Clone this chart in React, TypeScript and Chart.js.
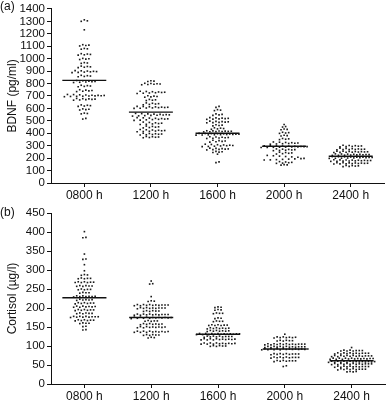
import React, { useEffect, useRef } from 'react';
import { Chart, registerables } from 'chart.js';

Chart.register(...registerables);

const FONT = '"Liberation Sans", Arial, Helvetica, sans-serif';

const categories = ['0800 h', '1200 h', '1600 h', '2000 h', '2400 h'];

// Panel (a) BDNF (pg/ml)
const bdnf0800 = [
  1312, 1304, 1300, 1232, 1112, 1109, 1106, 1102, 1082, 1079, 1076,
  1040, 1037, 1034, 1031, 1028, 1002, 999, 996, 993, 968, 965, 962,
  940, 937, 934, 931, 928, 904, 902, 900, 898, 896, 894, 892, 890, 888,
  866, 863, 860, 857, 854, 824, 822, 819, 816, 814, 812, 810, 808,
  786, 783, 780, 777, 774, 750, 747, 744, 741, 738, 735,
  712, 711, 709, 708, 706, 705, 704, 702, 701, 700, 698, 697, 696, 694,
  680, 678, 676, 674, 672, 670, 668, 666, 628, 625, 622, 619, 616,
  596, 593, 590, 587, 562, 559, 556, 520, 514,
];
const bdnf1200 = [
  822, 819, 816, 802, 800, 798, 796, 794, 792, 790,
  738, 736, 734, 732, 730, 728, 726, 724, 722, 720,
  702, 699, 696, 693, 690, 672, 669, 666, 663,
  644, 641, 638, 635, 632, 629,
  616, 615, 613, 612, 610, 609, 607, 606, 604, 603, 601, 600,
  560, 558, 556, 554, 552, 550, 548, 547, 545, 544, 542, 540, 538,
  526, 524, 522, 520, 518, 516, 514, 512, 510, 508, 506, 504,
  490, 487, 484, 481, 478, 475, 472, 470, 458, 455, 452, 449, 446, 443,
  430, 428, 426, 424, 422, 420, 418, 416, 414, 412,
  400, 398, 396, 394, 392, 390, 388, 386, 374, 372, 370, 368, 366, 364,
];
const bdnf1600 = [
  616, 608, 590, 586, 582, 556, 552, 548, 544,
  526, 524, 522, 520, 518, 516, 514, 512,
  498, 496, 494, 492, 490, 488, 486, 484, 468, 465, 462, 459,
  444, 441, 438, 435, 432, 420, 419, 418, 417, 416, 415, 414, 413, 412, 411,
  399, 398, 397, 396, 395, 394, 393, 392, 391, 390, 389, 388, 387, 386, 385,
  372, 370, 368, 366, 364, 362, 360, 358, 344, 341, 338, 335, 332, 329,
  312, 310, 308, 306, 304, 302, 300, 298, 296, 294, 292,
  280, 278, 276, 274, 272, 270, 268, 266, 254, 251, 248, 245, 232, 170, 164,
];
const bdnf2000 = [
  470, 454, 450, 434, 431, 428, 408, 405, 402, 399, 384, 381, 378,
  358, 355, 352, 349, 330, 328, 326, 324, 322, 320, 318, 316, 314, 312,
  300, 299, 298, 297, 296, 295, 294, 293, 292, 291, 290, 289, 288, 287, 286, 285,
  274, 272, 270, 268, 266, 264, 262, 260, 248, 245, 242, 239, 236, 233,
  222, 219, 216, 213, 210, 207, 198, 196, 194, 192, 190, 188, 186, 185,
  172, 169, 166, 163, 160, 158, 148, 146, 144,
];
const bdnf2400 = [
  304, 302, 300, 298, 296, 294, 292, 290,
  280, 278, 276, 274, 272, 271, 270, 269, 268, 267,
  256, 255, 254, 253, 252, 251, 250, 249, 248, 247, 246, 245,
  234, 233, 232, 231, 230, 229, 228, 227, 226, 225, 224, 223, 222,
  212, 211, 210, 209, 208, 207, 206, 205, 204, 203, 202, 201, 200, 199, 198,
  187, 186, 185, 184, 183, 182, 181, 180, 179, 178, 177, 176, 175, 174,
  164, 163, 162, 161, 160, 159, 158, 157, 156, 155, 154, 153,
  142, 140, 138, 136, 134, 132,
];
const bdnfMeans = [825, 570, 400, 295, 215];

// Panel (b) Cortisol (µg/l)
const cortisol0800 = [
  401, 386, 385, 342, 329, 328, 314, 298, 288, 287, 286,
  279, 278, 278, 277, 277, 269, 269, 268, 268, 267, 267, 267,
  259, 259, 258, 258, 257, 257, 250, 249, 249, 248, 248, 241, 240, 240, 239,
  232, 232, 231, 231, 230, 230, 230, 229, 223, 222, 222, 221, 221, 220,
  214, 214, 213, 213, 212, 212, 211, 205, 205, 204, 204, 203, 203, 202, 202,
  196, 196, 195, 195, 194, 194, 193, 187, 187, 186, 186, 185, 185,
  178, 178, 178, 177, 177, 177, 176, 176, 176, 175,
  169, 169, 168, 168, 167, 167, 166, 161, 160, 160, 159, 152, 151, 143, 142,
];
const cortisol1200 = [
  271, 264, 263, 230, 219, 218, 217,
  209, 209, 209, 208, 208, 208, 208, 207, 207, 207, 206, 206,
  201, 201, 200, 200, 200, 200, 199, 199, 199, 198,
  193, 193, 192, 192, 191, 191,
  184, 184, 184, 183, 183, 183, 183, 182, 182, 182, 181, 181,
  176, 176, 176, 175, 175, 175, 175, 174, 174, 174, 173, 173, 173, 172,
  167, 166, 166, 165, 165, 159, 159, 158, 158, 157, 157, 157, 156,
  151, 151, 150, 150, 150, 149, 149, 149, 148, 148,
  139, 139, 139, 138, 138, 138, 137, 137, 137, 136, 136, 136,
  130, 130, 129, 129, 128, 128, 123, 122, 121,
];
const cortisol1600 = [
  203, 202, 201, 196, 195, 194, 187, 186, 186, 185, 174, 173, 172,
  166, 165, 165, 164, 156, 156, 155, 155, 154, 154, 154,
  148, 148, 147, 147, 146, 146, 146, 145, 141, 141, 140, 140, 139, 139, 139, 138,
  133, 133, 133, 133, 132, 132, 132, 132, 131, 131, 131, 131, 130, 130, 130,
  126, 126, 126, 125, 125, 125, 124, 124, 124, 123,
  119, 119, 119, 118, 118, 118, 117, 117, 117, 116, 116, 116,
  108, 108, 108, 107, 107, 107, 106, 106, 106, 105, 105, 105,
  101, 101, 100, 100, 99, 99,
];
const cortisol2000 = [
  131, 124, 124, 123, 123, 122, 122, 122, 121, 115, 115, 114, 114, 113, 113,
  106, 106, 106, 106, 105, 105, 105, 105, 104, 104, 104, 104, 103, 103,
  99, 99, 99, 99, 98, 98, 98, 98, 97, 97, 97, 97, 96, 96,
  93, 93, 93, 93, 92, 92, 92, 92, 91, 91, 91, 91, 90, 90, 90, 90,
  80, 80, 80, 79, 79, 79, 78, 78, 78, 77, 71, 71, 71, 70, 70, 70, 69, 69, 69, 68,
  62, 62, 61, 61, 61, 60, 60, 59, 48, 46,
];
const cortisol2400 = [
  96, 89, 89, 88, 88, 88, 87, 87, 87, 82, 82, 82, 81, 81, 81, 81, 80, 80, 80, 79, 79,
  75, 75, 75, 75, 74, 74, 74, 74, 73, 73, 73, 73, 72, 72,
  68, 68, 68, 68, 67, 67, 67, 67, 66, 66, 66, 66, 65, 65, 65,
  60, 60, 60, 60, 59, 59, 59, 59, 58, 58, 58, 58, 57, 57, 57, 57,
  54, 54, 54, 54, 53, 53, 53, 53, 52, 52, 52, 52, 51, 51,
  47, 47, 47, 46, 46, 46, 46, 45, 45, 45, 44, 44,
  40, 40, 40, 39, 39, 39, 38, 38, 38, 37, 33, 33, 32, 32,
];
const cortisolMeans = [227, 175, 131, 92, 61];

type Pt = { x: number; y: number | null };

function swarmPoints(groups: number[][], gap: number, dx: number): Pt[] {
  const pts: Pt[] = [];
  groups.forEach((vals, gi) => {
    const sorted = [...vals].sort((a, b) => a - b);
    const rows: number[][] = [];
    let cur: number[] = [];
    sorted.forEach((v) => {
      if (cur.length && v - cur[cur.length - 1] > gap) {
        rows.push(cur);
        cur = [];
      }
      cur.push(v);
    });
    if (cur.length) rows.push(cur);
    rows.forEach((row) => {
      const order: number[] = [];
      let lo = 0;
      let hi = row.length - 1;
      let t = true;
      while (lo <= hi) {
        order.push(t ? row[lo++] : row[hi--]);
        t = !t;
      }
      const n = order.length;
      order.forEach((v, j) => pts.push({ x: gi + (j - (n - 1) / 2) * dx, y: v }));
    });
  });
  return pts;
}

function meanSegments(means: number[], half: number): Pt[] {
  const d: Pt[] = [];
  means.forEach((m, i) => {
    d.push({ x: i - half, y: m }, { x: i + half, y: m }, { x: i + 0.5, y: null });
  });
  return d;
}

function makeConfig(p: {
  groups: number[][];
  means: number[];
  gap: number;
  yMax: number;
  yStep: number;
  yTitle: string;
  label: string;
  labelY: number;
  padTop: number;
  padRight: number;
  xHeight: number;
}): any {
  const labelPlugin = {
    id: 'panelLabel' + p.label.replace(/[()]/g, ''),
    afterDraw(chart: any) {
      const ctx = chart.ctx;
      ctx.save();
      ctx.font = `12px ${FONT}`;
      ctx.fillStyle = '#111';
      ctx.textBaseline = 'middle';
      ctx.textAlign = 'left';
      ctx.fillText(p.label, 0, p.labelY);
      ctx.restore();
    },
  };
  const axisGrid = { display: true, drawOnChartArea: false, drawTicks: true, tickLength: 4, color: '#111', lineWidth: 1 };
  const axisBorder = { display: true, color: '#111', width: 1 };
  return {
    type: 'scatter',
    data: {
      datasets: [
        {
          type: 'line',
          data: meanSegments(p.means, 0.33),
          borderColor: '#111',
          borderWidth: 1.4,
          pointRadius: 0,
          spanGaps: false,
          showLine: true,
          fill: false,
          order: 0,
        },
        {
          data: swarmPoints(p.groups, p.gap, 0.046),
          pointStyle: 'rect',
          pointRadius: 1.15,
          backgroundColor: '#1a1a1a',
          borderWidth: 0,
          order: 1,
        },
      ],
    },
    options: {
      responsive: false,
      animation: false,
      devicePixelRatio: 1,
      layout: { autoPadding: false, padding: { top: p.padTop, right: p.padRight, left: 0, bottom: 0 } },
      plugins: { legend: { display: false }, tooltip: { enabled: false } },
      scales: {
        x: {
          type: 'linear',
          min: -0.5,
          max: 4.5,
          afterBuildTicks: (s: any) => {
            s.ticks = categories.map((_, i) => ({ value: i }));
          },
          afterFit: (s: any) => {
            s.height = p.xHeight;
          },
          ticks: {
            callback: (v: number) => categories[v] ?? '',
            font: { family: FONT, size: 12 },
            color: '#111',
            padding: 1,
            maxRotation: 0,
            autoSkip: false,
          },
          grid: axisGrid,
          border: axisBorder,
        },
        y: {
          type: 'linear',
          min: 0,
          max: p.yMax,
          afterFit: (s: any) => {
            s.width = 51;
          },
          ticks: {
            stepSize: p.yStep,
            autoSkip: false,
            callback: (v: number) => String(v),
            font: { family: FONT, size: 11.5 },
            color: '#111',
            padding: 2,
          },
          grid: axisGrid,
          border: axisBorder,
          title: {
            display: true,
            text: p.yTitle,
            font: { family: FONT, size: 12 },
            color: '#111',
            padding: { top: 5, bottom: 0 },
          },
        },
      },
    },
    plugins: [labelPlugin],
  };
}

export default function App() {
  const refA = useRef<HTMLCanvasElement>(null);
  const refB = useRef<HTMLCanvasElement>(null);

  useEffect(() => {
    const a = new Chart(
      refA.current as HTMLCanvasElement,
      makeConfig({
        groups: [bdnf0800, bdnf1200, bdnf1600, bdnf2000, bdnf2400],
        means: bdnfMeans,
        gap: 9,
        yMax: 1400,
        yStep: 100,
        yTitle: 'BDNF (pg/ml)',
        label: '(a)',
        labelY: 7,
        padTop: 6,
        padRight: 4,
        xHeight: 17,
      })
    );
    const b = new Chart(
      refB.current as HTMLCanvasElement,
      makeConfig({
        groups: [cortisol0800, cortisol1200, cortisol1600, cortisol2000, cortisol2400],
        means: cortisolMeans,
        gap: 2.5,
        yMax: 450,
        yStep: 50,
        yTitle: 'Cortisol (µg/l)',
        label: '(b)',
        labelY: 13,
        padTop: 13,
        padRight: 3,
        xHeight: 16,
      })
    );
    return () => {
      a.destroy();
      b.destroy();
    };
  }, []);

  return (
    <div style={{ position: 'absolute', left: 0, top: 0, width: 388, height: 400, background: '#fff' }}>
      <canvas ref={refA} width={388} height={200} style={{ position: 'absolute', left: 0, top: 0 }} />
      <canvas ref={refB} width={388} height={200} style={{ position: 'absolute', left: 0, top: 200 }} />
    </div>
  );
}
